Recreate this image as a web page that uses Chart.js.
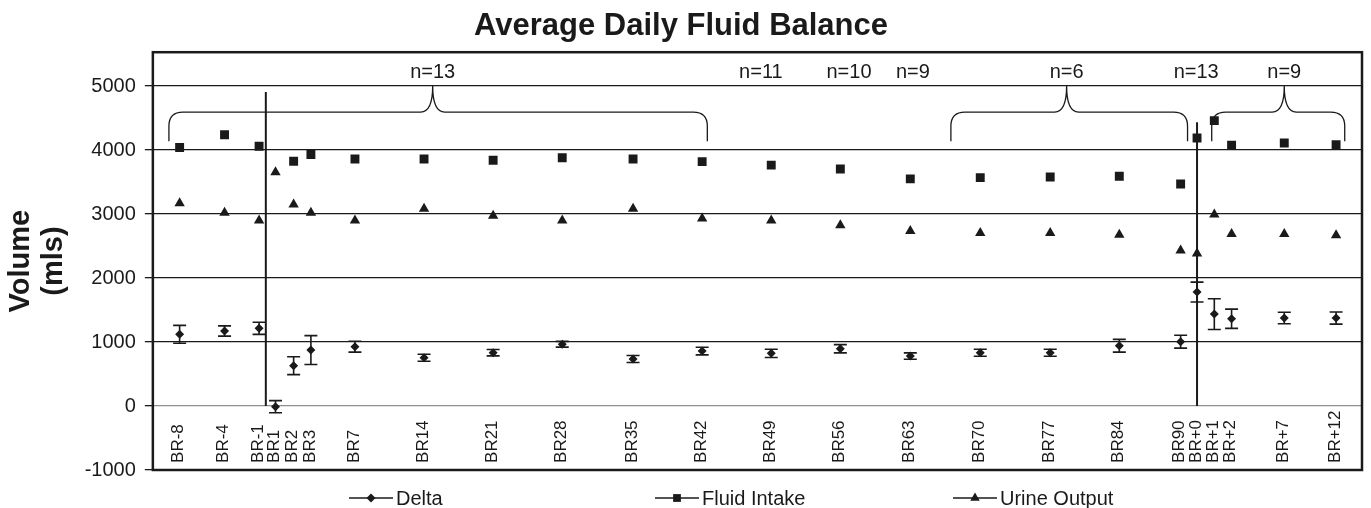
<!DOCTYPE html>
<html>
<head>
<meta charset="utf-8">
<script src="https://cdn.jsdelivr.net/npm/chart.js@4/dist/chart.umd.min.js"></script>
<style>
  body { margin: 0; background: #fff; }
  #wadah { width: 1371px; height: 508px; }
</style>
</head>
<body>
<div id="wadah"><canvas id="grafik"></canvas></div>
<script>
// data
const labels = ['BR-8','BR-4','BR-1','BR1','BR2','BR3','BR7','BR14','BR21','BR28','BR35','BR42',
                'BR49','BR56','BR63','BR70','BR77','BR84','BR90','BR+0','BR+1','BR+2','BR+7','BR+12'];
const xPos = [1.55,4.15,6.15,7.1,8.15,9.15,11.7,15.7,19.7,23.7,27.8,31.8,
              35.8,39.8,43.85,47.9,51.95,55.95,59.5,60.45,61.45,62.45,65.5,68.5];
const delta = [1120,1172,1214,-10,630,875,927,755,833,965,734,859,
               823,895,781,833,833,942,1005,1781,1437,1364,1375,1375];
const deltaErr = [140,80,95,95,140,225,85,55,50,45,55,60,
                  65,65,50,55,55,100,100,155,240,150,90,95];
const fluidIntake = [4040,4240,4060,null,3825,3930,3860,3860,3840,3880,3860,3820,
                     3765,3705,3550,3570,3580,3590,3470,4190,4460,4075,4110,4085];
const urineOutput = [3170,3020,2900,3655,3150,3020,2900,3085,2975,2900,3085,2930,
                     2900,2825,2735,2705,2705,2675,2430,2385,2995,2690,2690,2670];
const yTicks = [-1000,0,1000,2000,3000,4000,5000];

// garis pemisah vertikal (posisi x, puncak y)
const dividerX = [6.54, 60.45];
const dividerTop = [4906, 4437];

// kurung kurawal dan jumlah subjek
const braceStart = [0.93, 46.2, 61.3];
const braceEnd = [32.1, 59.9, 69.0];
const bracePeak = [16.2, 52.9, 65.5];
const nLabels = ['n=13','n=11','n=10','n=9','n=6','n=13','n=9'];
const nPos = [16.2, 35.2, 40.3, 44.0, 52.9, 60.4, 65.5];

const HITAM = '#1a1a1a';
const FONT = "'Liberation Sans', Arial, Helvetica, sans-serif";

function titik(arr) {
  return arr.map((v, i) => ({ x: xPos[i], y: v }));
}

function gambarPenanda(ctx, gaya, x, y, r) {
  ctx.beginPath();
  if (gaya === 'rect') {
    const s = r * Math.SQRT1_2;
    ctx.rect(x - s, y - s, 2 * s, 2 * s);
  } else if (gaya === 'rectRot') {
    ctx.moveTo(x - r, y); ctx.lineTo(x, y - r); ctx.lineTo(x + r, y); ctx.lineTo(x, y + r);
    ctx.closePath();
  } else {
    ctx.moveTo(x, y - r);
    ctx.lineTo(x + r * Math.sin(2 * Math.PI / 3), y - r * Math.cos(2 * Math.PI / 3));
    ctx.lineTo(x + r * Math.sin(4 * Math.PI / 3), y - r * Math.cos(4 * Math.PI / 3));
    ctx.closePath();
  }
  ctx.fill();
}

const hiasan = {
  id: 'hiasan',
  afterDatasetsDraw(chart) {
    const { ctx, chartArea: a, scales: { x, y } } = chart;
    ctx.save();
    ctx.strokeStyle = HITAM;
    ctx.fillStyle = HITAM;

    // error bar
    ctx.lineWidth = 1.6;
    delta.forEach((v, i) => {
      const px = x.getPixelForValue(xPos[i]);
      const top = y.getPixelForValue(v + deltaErr[i]);
      const bot = y.getPixelForValue(v - deltaErr[i]);
      ctx.beginPath();
      ctx.moveTo(px, top); ctx.lineTo(px, bot);
      ctx.moveTo(px - 6.5, top); ctx.lineTo(px + 6.5, top);
      ctx.moveTo(px - 6.5, bot); ctx.lineTo(px + 6.5, bot);
      ctx.stroke();
    });

    // kurung kurawal
    ctx.lineWidth = 1.3;
    const yEnd = y.getPixelForValue(4140);
    const yMid = y.getPixelForValue(4594);
    const yTip = y.getPixelForValue(5000);
    braceStart.forEach((s, i) => {
      const x0 = x.getPixelForValue(s);
      const x1 = x.getPixelForValue(braceEnd[i]);
      const xm = x.getPixelForValue(bracePeak[i]);
      const r = 14;
      ctx.beginPath();
      ctx.moveTo(x0, yEnd);
      ctx.lineTo(x0, yMid + r);
      ctx.quadraticCurveTo(x0, yMid, x0 + r, yMid);
      ctx.lineTo(xm - 12, yMid);
      ctx.quadraticCurveTo(xm, yMid, xm, yTip);
      ctx.quadraticCurveTo(xm, yMid, xm + 12, yMid);
      ctx.lineTo(x1 - r, yMid);
      ctx.quadraticCurveTo(x1, yMid, x1, yMid + r);
      ctx.lineTo(x1, yEnd);
      ctx.stroke();
    });

    // label n=
    ctx.font = '20px ' + FONT;
    ctx.textAlign = 'center';
    ctx.textBaseline = 'middle';
    nLabels.forEach((t, i) => {
      ctx.fillText(t, x.getPixelForValue(nPos[i]), y.getPixelForValue(5220));
    });

    // label kategori, vertikal di dalam area plot
    ctx.font = '17px ' + FONT;
    ctx.textAlign = 'left';
    labels.forEach((t, i) => {
      ctx.save();
      ctx.translate(x.getPixelForValue(xPos[i]) - 1, y.getPixelForValue(-890));
      ctx.rotate(-Math.PI / 2);
      ctx.fillText(t, 0, 0);
      ctx.restore();
    });

    // bingkai
    ctx.lineWidth = 2.5;
    ctx.strokeRect(a.left, a.top, a.right - a.left, a.bottom - a.top);

    // legenda
    const legenda = [
      { teks: 'Delta', gaya: 'rectRot', r: 4.5, x: 349 },
      { teks: 'Fluid Intake', gaya: 'rect', r: 5.5, x: 655 },
      { teks: 'Urine Output', gaya: 'triangle', r: 5.5, x: 953 }
    ];
    const ly = 498;
    ctx.font = '20px ' + FONT;
    ctx.textBaseline = 'middle';
    legenda.forEach(l => {
      ctx.lineWidth = 1.5;
      ctx.beginPath();
      ctx.moveTo(l.x, ly); ctx.lineTo(l.x + 44, ly);
      ctx.stroke();
      gambarPenanda(ctx, l.gaya, l.x + 22, ly, l.r);
      ctx.fillText(l.teks, l.x + 47, ly + 1);
    });
    ctx.restore();
  }
};

const datasets = [
  {
    label: 'Delta', data: titik(delta), pointStyle: 'rectRot', pointRadius: 4.5,
    backgroundColor: HITAM, borderColor: HITAM, borderWidth: 0, showLine: false
  },
  {
    label: 'Fluid Intake', data: titik(fluidIntake), pointStyle: 'rect', pointRadius: 6.3,
    backgroundColor: HITAM, borderColor: HITAM, borderWidth: 0, showLine: false
  },
  {
    label: 'Urine Output', data: titik(urineOutput), pointStyle: 'triangle', pointRadius: 6,
    backgroundColor: HITAM, borderColor: HITAM, borderWidth: 0, showLine: false
  }
];
dividerX.forEach((dx, i) => {
  datasets.push({
    label: 'pemisah', type: 'line',
    data: [{ x: dx, y: dividerTop[i] }, { x: dx, y: 0 }],
    borderColor: HITAM, borderWidth: 2, pointRadius: 0, showLine: true, fill: false
  });
});

new Chart(document.getElementById('grafik'), {
  type: 'scatter',
  data: { datasets: datasets },
  options: {
    responsive: true,
    maintainAspectRatio: false,
    animation: false,
    layout: { padding: { left: 0, right: 9, top: 0, bottom: 38 } },
    plugins: {
      legend: { display: false },
      tooltip: { enabled: false },
      title: {
        display: true,
        text: 'Average Daily Fluid Balance',
        color: HITAM,
        font: { family: FONT, size: 31, weight: 'bold' },
        padding: { top: 8, bottom: 7 }
      }
    },
    scales: {
      x: { type: 'linear', min: 0, max: 70, display: false },
      y: {
        min: -1000, max: 5530,
        afterBuildTicks: s => { s.ticks = yTicks.map(v => ({ value: v })); },
        border: { display: false },
        grid: {
          color: c => c.tick && c.tick.value === 0 ? '#8f8f8f' : HITAM,
          tickColor: HITAM,
          lineWidth: 1.3,
          tickLength: 8
        },
        ticks: {
          color: HITAM, font: { family: FONT, size: 20 }, padding: 9,
          callback: v => String(v)
        },
        title: {
          display: true,
          text: ['Volume', '(mls)'],
          color: HITAM,
          font: { family: FONT, size: 29, weight: 'bold', lineHeight: 1.15 },
          padding: { top: 4, bottom: 5 }
        }
      }
    }
  },
  plugins: [hiasan]
});
</script>
</body>
</html>
